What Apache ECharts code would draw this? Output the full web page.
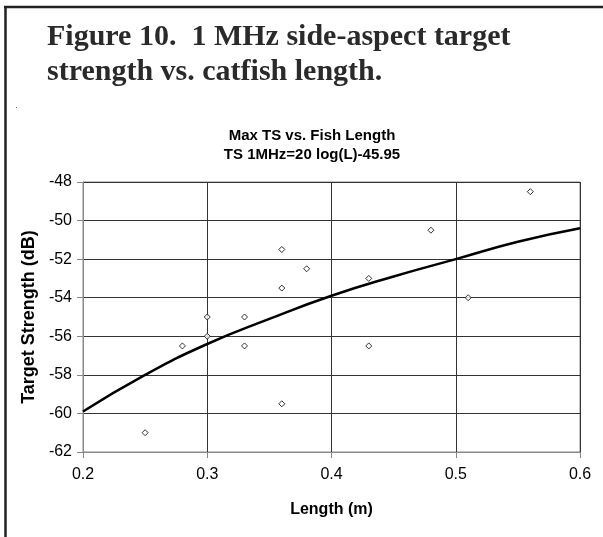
<!DOCTYPE html>
<html><head><meta charset="utf-8">
<script src="https://cdn.jsdelivr.net/npm/echarts@6/dist/echarts.min.js"></script>
<style>html,body{margin:0;padding:0;background:#fff}#c{width:603px;height:537px}</style>
</head><body><div id="c"></div>
<script>
// Measured fish (length m, max TS dB)
const fishLength = [0.25, 0.28, 0.30, 0.30, 0.33, 0.33, 0.36, 0.36, 0.36, 0.38, 0.43, 0.43, 0.48, 0.51, 0.56];
const fishTS     = [-61, -56.5, -55, -56, -55, -56.5, -51.5, -53.5, -59.5, -52.5, -53, -56.5, -50.5, -54, -48.5];
// Trend line
const trendLength = [0.2, 0.25, 0.3, 0.35, 0.4, 0.45, 0.5, 0.55, 0.6];
const trendTS     = [-59.9, -58.0, -56.4, -55.1, -53.9, -52.9, -52.0, -51.1, -50.4];
const xTicks = [0.2, 0.3, 0.4, 0.5, 0.6];
const yTicks = [-62, -60, -58, -56, -54, -52, -50, -48];

const chart = echarts.init(document.getElementById('c'));
chart.setOption({
  animation: false,
  backgroundColor: '#fff',
  title: [
    {text: 'Figure 10.  1 MHz side-aspect target\nstrength vs. catfish length.', left: 42, top: 15,
     textStyle: {fontFamily: 'Liberation Serif', fontWeight: 'bold', fontSize: 30, color: '#2a2a2a', lineHeight: 35}},
    {text: 'Max TS vs. Fish Length\nTS 1MHz=20 log(L)-45.95', left: 307, textAlign: 'center', top: 121,
     textStyle: {fontFamily: 'Liberation Sans', fontWeight: 'bold', fontSize: 15, color: '#000', lineHeight: 19}}
  ],
  grid: {left: 83, right: 23, top: 182, bottom: 85, show: true, borderColor: '#888', borderWidth: 1},
  xAxis: {
    type: 'value', min: xTicks[0], max: xTicks[xTicks.length-1], interval: 0.1,
    name: 'Length (m)', nameLocation: 'middle', nameGap: 50,
    nameTextStyle: {fontFamily: 'Liberation Sans', fontWeight: 'bold', fontSize: 16, color: '#000'},
    axisLine: {show: true, lineStyle: {color: '#888'}},
    axisTick: {show: true, length: 6, lineStyle: {color: '#888'}},
    axisLabel: {fontFamily: 'Liberation Sans', fontSize: 16, color: '#000', margin: 15, formatter: v => v.toFixed(1)},
    splitLine: {show: true, lineStyle: {color: '#333', width: 1}}
  },
  yAxis: {
    type: 'value', min: yTicks[0], max: yTicks[yTicks.length-1], interval: 2,
    name: 'Target Strength (dB)', nameLocation: 'middle', nameGap: 37,
    nameTextStyle: {fontFamily: 'Liberation Sans', fontWeight: 'bold', fontSize: 18, color: '#000'},
    axisLine: {show: true, lineStyle: {color: '#888'}},
    axisTick: {show: true, length: 6, lineStyle: {color: '#888'}},
    axisLabel: {fontFamily: 'Liberation Sans', fontSize: 16, color: '#000', margin: 11},
    splitLine: {show: true, lineStyle: {color: '#333', width: 1}}
  },
  series: [
    {type: 'line', data: trendLength.map((x, i) => [x, trendTS[i]]), smooth: true, symbol: 'none',
     lineStyle: {color: '#000', width: 2.5}, z: 3},
    {type: 'scatter', data: fishLength.map((x, i) => [x, fishTS[i]]), symbol: 'diamond', symbolSize: 6,
     itemStyle: {color: '#fff', borderColor: '#000', borderWidth: 1}, z: 4}
  ],
  graphic: [
    {type: 'line', shape: {x1: 4, y1: 7, x2: 603, y2: 7}, style: {stroke: '#222', lineWidth: 2.5}},
    {type: 'line', shape: {x1: 5.5, y1: 6, x2: 5.5, y2: 537}, style: {stroke: '#222', lineWidth: 2.5}},
    {type: 'rect', shape: {x: 16, y: 107, width: 1, height: 1}, style: {fill: '#666'}}
  ]
});
</script></body></html>
